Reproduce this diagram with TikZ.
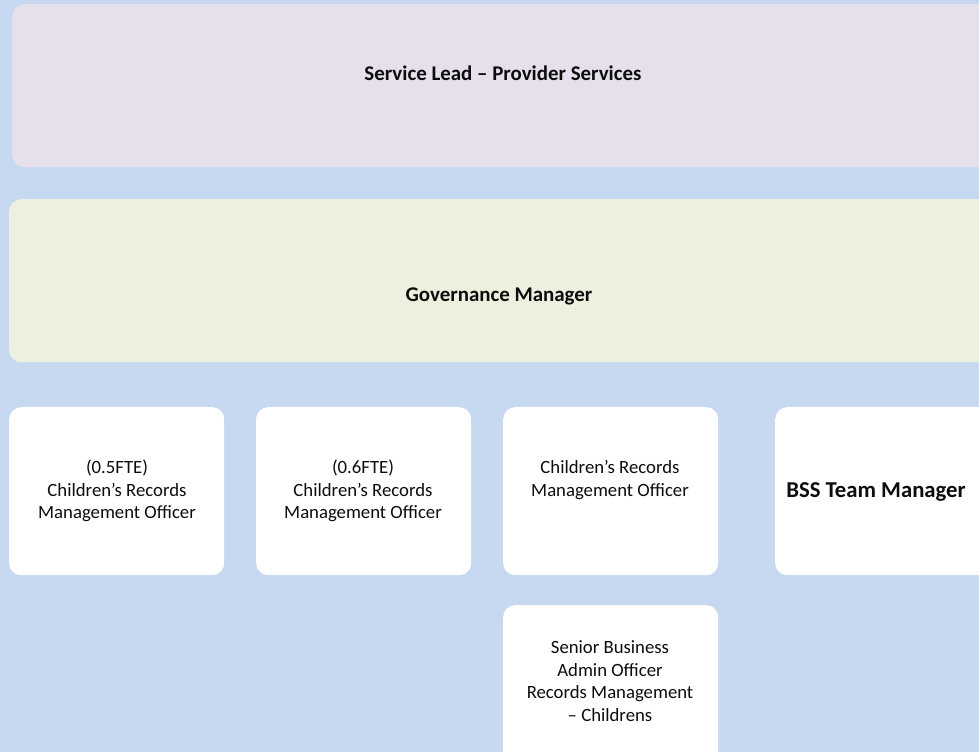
\documentclass[tikz,border=0pt]{standalone}
\usepackage{fontspec}
\setmainfont{Carlito}
\definecolor{bgc}{RGB}{198,217,240}
\definecolor{lav}{RGB}{229,224,236}
\definecolor{grn}{RGB}{235,241,222}
\definecolor{txt}{RGB}{13,13,13}
\begin{document}
\begin{tikzpicture}[x=1bp,y=-1bp,
  box/.style={rounded corners=12bp, draw=none, inner sep=0pt, anchor=north west},
  wbox/.style={box, fill=white, minimum width=215bp, minimum height=168bp},
  lbl/.style={font=\fontsize{18.8}{22.8}\selectfont, align=center, text=txt, inner sep=0pt},
  blbl/.style={font=\fontsize{21}{24}\selectfont\bfseries, align=center, text=txt, inner sep=0pt}]
\useasboundingbox (0,0) rectangle (979,752);
\clip (0,0) rectangle (979,752);
\fill[bgc] (0,0) rectangle (979,752);
\node[box, fill=lav, minimum width=990bp, minimum height=163bp] (lead) at (12,4) {};
\node[box, fill=grn, minimum width=990bp, minimum height=163bp] (gov) at (9,199) {};
\node[wbox] (b1) at (9,407) {};
\node[wbox] (b2) at (256,407) {};
\node[wbox] (b3) at (503,407) {};
\node[box, fill=white, minimum width=230bp, minimum height=168bp] (b4) at (775,407) {};
\node[wbox] (b5) at (503,605) {};
\node[blbl] (tlead) at (503,73) {Service Lead – Provider Services};
\node[blbl] (tgov) at (499,296) {Governance Manager};
\node[lbl] (t1) at (117,491) {(0.5FTE)\\Children’s Records\\Management Officer};
\node[lbl] (t2) at (363,491) {(0.6FTE)\\Children’s Records\\Management Officer};
\node[lbl] (t3) at (610,480) {Children’s Records\\Management Officer};
\node[blbl, font=\fontsize{22.8}{26}\selectfont\bfseries] (t4) at (876,492) {BSS Team Manager};
\node[lbl] (t5) at (610,681) {Senior Business\\Admin Officer\\Records Management\\– Childrens};
\end{tikzpicture}
\end{document}
